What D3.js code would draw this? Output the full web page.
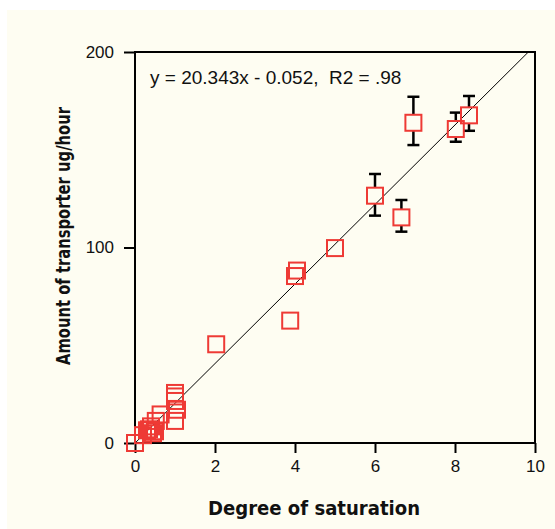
<!DOCTYPE html>
<html>
<head>
<meta charset="utf-8">
<script src="https://cdn.jsdelivr.net/npm/d3@7"></script>
<style>
  html, body { margin: 0; padding: 0; background: #ffffff; }
  svg { display: block; }
</style>
</head>
<body>
<svg id="chart" width="555" height="529"></svg>
<script>
// Measured points: degree of saturation vs. transporter amount (ug/hour)
const saturation = [0, 0.2, 0.3, 0.35, 0.4, 0.45, 0.5, 0.52, 0.64,
                    1.0, 1.0, 1.0, 1.05, 1.0, 2.03, 3.88, 4.0, 4.05, 5.0,
                    6.0, 6.66, 6.96, 8.02, 8.35];
const transporter = [0, 4, 6.5, 7, 8.5, 5, 6, 11.3, 14.6,
                     25.6, 23.8, 21.5, 17, 11.3, 50.5, 62.6, 85.4, 88.2, 99.7,
                     126.5, 115.4, 163.8, 160.6, 167.6];
// Standard deviations (only the higher-saturation points carry error bars)
const errUp   = [0, 0, 0, 0, 0, 0, 0, 0, 0,
                 0, 0, 0, 0, 0, 0, 0, 0, 0, 0,
                 11.1, 8.9, 13.3, 8.4, 9.9];
const errDown = [0, 0, 0, 0, 0, 0, 0, 0, 0,
                 0, 0, 0, 0, 0, 0, 0, 0, 0, 0,
                 10.2, 7.3, 11.4, 6.5, 7.9];

const xTicks = [0, 2, 4, 6, 8, 10];
const yTicks = [0, 100, 200];

// Least-squares fit
const slope = 20.343, intercept = -0.052, r2 = ".98";

const svg = d3.select("#chart");
const W = 555, H = 529;
const plot = { left: 135, right: 535, top: 52, bottom: 443 };

svg.append("rect").attr("x", 7).attr("y", 10).attr("width", W - 7).attr("height", H - 10)
  .attr("fill", "#fefdf2");

const x = d3.scaleLinear().domain([0, 10]).range([plot.left, plot.right]);
const y = d3.scaleLinear().domain([0, 200]).range([plot.bottom, plot.top]);

// Frame
svg.append("rect")
  .attr("x", plot.left).attr("y", plot.top)
  .attr("width", plot.right - plot.left).attr("height", plot.bottom - plot.top)
  .attr("fill", "none").attr("stroke", "#000").attr("stroke-width", 2);

// X axis
const xAxis = svg.append("g").attr("transform", `translate(0,${plot.bottom})`)
  .call(d3.axisBottom(x).tickValues(xTicks).tickSize(10).tickPadding(7).tickFormat(d3.format("d")));
xAxis.select(".domain").remove();
xAxis.selectAll(".tick line").attr("stroke-width", 2);
xAxis.selectAll("text").attr("font-family", "Liberation Sans, Arial, sans-serif")
  .attr("font-size", 17).attr("fill", "#111");

// Y axis
const yAxis = svg.append("g").attr("transform", `translate(${plot.left - 1},0)`)
  .call(d3.axisLeft(y).tickValues(yTicks).tickSize(10).tickPadding(10).tickFormat(d3.format("d")));
yAxis.select(".domain").remove();
yAxis.selectAll(".tick line").attr("stroke-width", 2);
yAxis.selectAll("text").attr("font-family", "Liberation Sans, Arial, sans-serif")
  .attr("font-size", 17).attr("fill", "#111");

// Regression line, clipped to the top of the frame
const xEnd = (200 - intercept) / slope;
svg.append("line")
  .attr("x1", x(0)).attr("y1", y(intercept))
  .attr("x2", x(xEnd)).attr("y2", y(200))
  .attr("stroke", "#000").attr("stroke-width", 1);

// Fit equation
svg.append("text").attr("x", 150).attr("y", 84)
  .attr("xml:space", "preserve")
  .style("white-space", "pre")
  .attr("font-family", "Liberation Sans, Arial, sans-serif").attr("font-size", 19)
  .attr("fill", "#111")
  .text(`y = ${slope}x - ${Math.abs(intercept).toFixed(3)},  R2 = ${r2}`);

const data = saturation.map((s, i) => ({ s, t: transporter[i], up: errUp[i], down: errDown[i] }));
const half = 8, cap = 6;

// Error bars: stems run from the marker edge to the caps
const eb = svg.append("g").attr("stroke", "#000").attr("stroke-width", 2.5);
data.filter(d => d.up > 0).forEach(d => {
  const cx = x(d.s), cy = y(d.t);
  const yT = y(d.t + d.up), yB = y(d.t - d.down);
  eb.append("line").attr("x1", cx - cap).attr("x2", cx + cap).attr("y1", yT).attr("y2", yT);
  eb.append("line").attr("x1", cx - cap).attr("x2", cx + cap).attr("y1", yB).attr("y2", yB);
  if (yT < cy - half) eb.append("line").attr("x1", cx).attr("x2", cx).attr("y1", yT).attr("y2", cy - half);
  if (yB > cy + half) eb.append("line").attr("x1", cx).attr("x2", cx).attr("y1", cy + half).attr("y2", yB);
});

// Open square markers
svg.append("g").selectAll("rect").data(data).join("rect")
  .attr("x", d => x(d.s) - half).attr("y", d => y(d.t) - half)
  .attr("width", half * 2).attr("height", half * 2)
  .attr("fill", "none").attr("stroke", "#ee3a35").attr("stroke-width", 2);

// Axis titles
svg.append("text").attr("x", 314).attr("y", 515).attr("text-anchor", "middle")
  .attr("font-family", "DejaVu Sans, sans-serif").attr("font-weight", "bold")
  .attr("font-size", 20).attr("textLength", 212).attr("lengthAdjust", "spacingAndGlyphs")
  .attr("fill", "#111").text("Degree of saturation");

svg.append("text").attr("transform", "translate(70,236) rotate(-90)").attr("text-anchor", "middle")
  .attr("font-family", "DejaVu Sans, sans-serif").attr("font-weight", "bold")
  .attr("font-size", 20).attr("textLength", 258).attr("lengthAdjust", "spacingAndGlyphs")
  .attr("fill", "#111").text("Amount of transporter ug/hour");
</script>
</body>
</html>
